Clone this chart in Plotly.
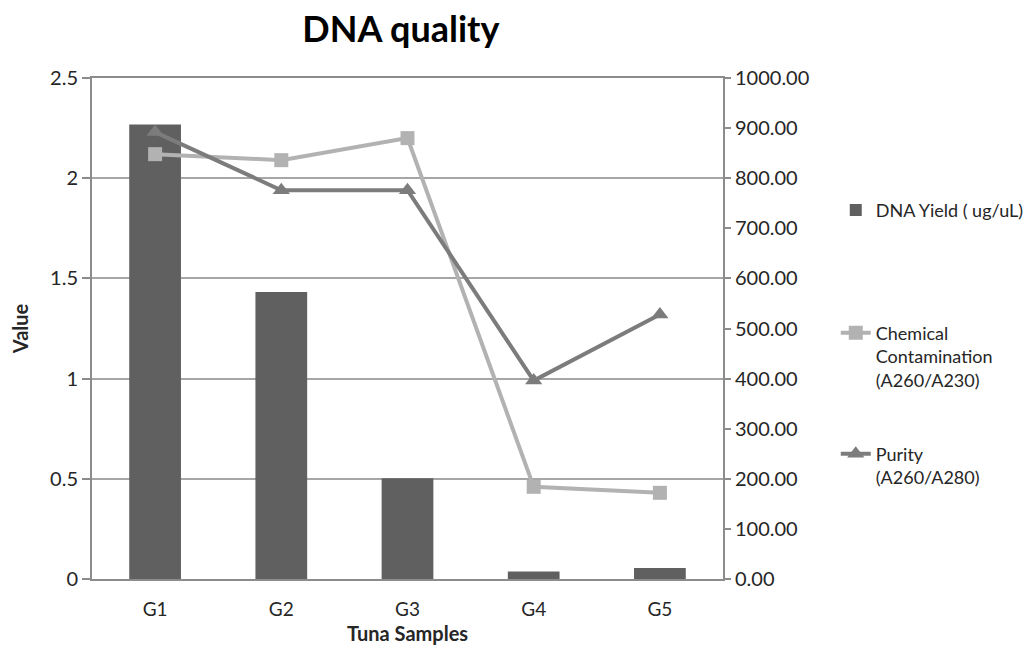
import plotly.graph_objects as go

# Tuna sample DNA extraction results
categories = ["G1", "G2", "G3", "G4", "G5"]
dna_yield = [907, 573, 201, 15, 22]          # right axis
chem_contamination = [2.12, 2.09, 2.20, 0.46, 0.43]  # A260/A230, left axis
purity = [2.23, 1.94, 1.94, 0.99, 1.32]      # A260/A280, left axis

FONT = "Lato"
TXT = "#262626"
AX = "#8c8c8c"

fig = go.Figure()

fig.add_trace(go.Bar(
    x=categories, y=dna_yield, name="DNA Yield ( ug/uL)",
    marker=dict(color="#606060", line=dict(width=0)), width=0.41,
    yaxis="y", legend="legend", showlegend=True,
))
fig.add_trace(go.Scatter(
    x=categories, y=chem_contamination,
    name="Chemical<br>Contamination<br>(A260/A230)",
    mode="lines+markers",
    line=dict(color="#b2b2b2", width=4),
    marker=dict(symbol="square", size=14, color="#b2b2b2"),
    yaxis="y2", legend="legend2",
))
fig.add_trace(go.Scatter(
    x=categories, y=purity,
    name="Purity<br>(A260/A280)",
    mode="lines+markers",
    line=dict(color="#7c7c7c", width=4),
    marker=dict(symbol="triangle-up", size=15, color="#7c7c7c"),
    yaxis="y2", legend="legend3",
))

legend_common = dict(
    xref="container", yref="container",
    xanchor="left", x=0.813, bgcolor="rgba(0,0,0,0)", valign="top",
    font=dict(family=FONT, size=18, color=TXT), itemwidth=30,
)

fig.update_layout(
    width=1028, height=650,
    margin=dict(l=92, r=305, t=78, b=71, autoexpand=False),
    paper_bgcolor="white", plot_bgcolor="white",
    font=dict(family=FONT, color=TXT),
    showlegend=True,
    title=dict(text="<b>DNA quality</b>", x=0.39, xanchor="center",
               y=0.955, yanchor="middle",
               font=dict(family=FONT, size=36, color="black")),
    xaxis=dict(
        showline=True, linecolor=AX, linewidth=2, ticks="", mirror=True,
        tickfont=dict(size=19, color=TXT), showgrid=False,
        ticklabelstandoff=12, automargin=False,
        title=dict(text="<b>Tuna Samples</b>", font=dict(size=20, color=TXT), standoff=8),
    ),
    yaxis=dict(
        side="right", range=[0, 1000], dtick=100, tickformat=".2f",
        showline=True, linecolor=AX, linewidth=2, ticks="outside",
        ticklen=6, tickcolor=AX, tickwidth=2, showgrid=False,
        tickfont=dict(size=20, color=TXT), zeroline=False, automargin=False,
    ),
    yaxis2=dict(
        overlaying="y", side="left", range=[0, 2.5], dtick=0.5,
        showline=True, linecolor=AX, linewidth=2, ticks="outside",
        ticklen=8, tickcolor=AX, tickwidth=2,
        showgrid=True, gridcolor="#a6a6a6", gridwidth=2, zeroline=False,
        tickfont=dict(size=20, color=TXT), automargin=False,
        title=dict(text="<b>Value</b>", font=dict(size=20, color=TXT), standoff=16),
    ),
    legend=dict(y=0.6763, yanchor="middle", **legend_common),
    legend2=dict(y=0.516, yanchor="top", **legend_common),
    legend3=dict(y=0.330, yanchor="top", **legend_common),
)

fig.write_html("out.html")
